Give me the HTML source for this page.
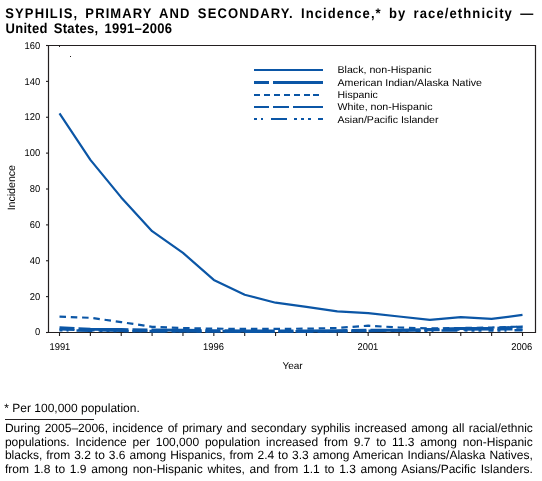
<!DOCTYPE html>
<html><head><meta charset="utf-8"><style>
html,body{margin:0;padding:0;background:#fff;width:542px;height:481px;overflow:hidden}
svg{display:block;will-change:transform}
text{font-family:"Liberation Sans",sans-serif;fill:#000;text-rendering:geometricPrecision}
.tk{font-size:9.9px}
.lab{font-size:10px}
.lg{font-size:10px}
.tt{font-size:14px;font-weight:bold}
.ft{font-size:12px}
</style></head><body>
<svg width="542" height="481" viewBox="0 0 542 481">
<path d="M48.5,45.5 H535.5 V332.5 H48.5 Z" fill="none" stroke="#231f20" stroke-width="1.2"/>
<line x1="46" y1="332.50" x2="48.5" y2="332.50" stroke="#231f20" stroke-width="1.1"/>
<text transform="translate(40.2,335.00) scale(0.95,1)" text-anchor="end" class="tk">0</text>
<line x1="46" y1="296.62" x2="48.5" y2="296.62" stroke="#231f20" stroke-width="1.1"/>
<text transform="translate(40.2,299.82) scale(0.95,1)" text-anchor="end" class="tk">20</text>
<line x1="46" y1="260.75" x2="48.5" y2="260.75" stroke="#231f20" stroke-width="1.1"/>
<text transform="translate(40.2,263.95) scale(0.95,1)" text-anchor="end" class="tk">40</text>
<line x1="46" y1="224.88" x2="48.5" y2="224.88" stroke="#231f20" stroke-width="1.1"/>
<text transform="translate(40.2,228.07) scale(0.95,1)" text-anchor="end" class="tk">60</text>
<line x1="46" y1="189.00" x2="48.5" y2="189.00" stroke="#231f20" stroke-width="1.1"/>
<text transform="translate(40.2,192.20) scale(0.95,1)" text-anchor="end" class="tk">80</text>
<line x1="46" y1="153.12" x2="48.5" y2="153.12" stroke="#231f20" stroke-width="1.1"/>
<text transform="translate(40.2,156.32) scale(0.95,1)" text-anchor="end" class="tk">100</text>
<line x1="46" y1="117.25" x2="48.5" y2="117.25" stroke="#231f20" stroke-width="1.1"/>
<text transform="translate(40.2,120.45) scale(0.95,1)" text-anchor="end" class="tk">120</text>
<line x1="46" y1="81.38" x2="48.5" y2="81.38" stroke="#231f20" stroke-width="1.1"/>
<text transform="translate(40.2,84.58) scale(0.95,1)" text-anchor="end" class="tk">140</text>
<line x1="46" y1="45.50" x2="48.5" y2="45.50" stroke="#231f20" stroke-width="1.1"/>
<text transform="translate(40.2,48.70) scale(0.95,1)" text-anchor="end" class="tk">160</text>
<line x1="59.50" y1="332.5" x2="59.50" y2="336" stroke="#231f20" stroke-width="1.1"/>
<line x1="90.37" y1="332.5" x2="90.37" y2="336" stroke="#231f20" stroke-width="1.1"/>
<line x1="121.23" y1="332.5" x2="121.23" y2="336" stroke="#231f20" stroke-width="1.1"/>
<line x1="152.10" y1="332.5" x2="152.10" y2="336" stroke="#231f20" stroke-width="1.1"/>
<line x1="182.97" y1="332.5" x2="182.97" y2="336" stroke="#231f20" stroke-width="1.1"/>
<line x1="213.83" y1="332.5" x2="213.83" y2="336" stroke="#231f20" stroke-width="1.1"/>
<line x1="244.70" y1="332.5" x2="244.70" y2="336" stroke="#231f20" stroke-width="1.1"/>
<line x1="275.57" y1="332.5" x2="275.57" y2="336" stroke="#231f20" stroke-width="1.1"/>
<line x1="306.43" y1="332.5" x2="306.43" y2="336" stroke="#231f20" stroke-width="1.1"/>
<line x1="337.30" y1="332.5" x2="337.30" y2="336" stroke="#231f20" stroke-width="1.1"/>
<line x1="368.17" y1="332.5" x2="368.17" y2="336" stroke="#231f20" stroke-width="1.1"/>
<line x1="399.03" y1="332.5" x2="399.03" y2="336" stroke="#231f20" stroke-width="1.1"/>
<line x1="429.90" y1="332.5" x2="429.90" y2="336" stroke="#231f20" stroke-width="1.1"/>
<line x1="460.77" y1="332.5" x2="460.77" y2="336" stroke="#231f20" stroke-width="1.1"/>
<line x1="491.63" y1="332.5" x2="491.63" y2="336" stroke="#231f20" stroke-width="1.1"/>
<line x1="522.50" y1="332.5" x2="522.50" y2="336" stroke="#231f20" stroke-width="1.1"/>
<text transform="translate(59.9,349.7) scale(0.95,1)" text-anchor="middle" class="tk">1991</text>
<text transform="translate(213.5,349.7) scale(0.95,1)" text-anchor="middle" class="tk">1996</text>
<text transform="translate(367.9,349.7) scale(0.95,1)" text-anchor="middle" class="tk">2001</text>
<text transform="translate(521.7,349.7) scale(0.95,1)" text-anchor="middle" class="tk">2006</text>
<line x1="59.5" y1="45" x2="59.5" y2="47" stroke="#231f20" stroke-width="1"/>
<rect x="70" y="56" width="1" height="1" fill="#231f20"/>
<text x="292.5" y="368.9" text-anchor="middle" class="lab">Year</text>
<text transform="translate(15,187.7) rotate(-90)" text-anchor="middle" class="lab" style="font-size:10.6px">Incidence</text>
<polyline points="59.5,330.2 90.4,330.7 121.2,330.9 152.1,331.1 183.0,331.1 213.8,331.2 244.7,331.4 275.6,331.4 306.4,331.4 337.3,331.2 368.2,330.9 399.0,330.7 429.9,330.7 460.8,330.3 491.6,330.5 522.5,330.2" fill="none" stroke="#0b56a6" stroke-width="2.6" stroke-dasharray="3,4,2,8,16,7,3,4,3,4,3,7,5,4"/>
<polyline points="59.5,327.8 90.4,329.3 121.2,329.6 152.1,330.0 183.0,330.3 213.8,330.7 244.7,330.9 275.6,330.9 306.4,330.9 337.3,330.7 368.2,330.3 399.0,330.2 429.9,329.5 460.8,328.6 491.6,328.4 522.5,327.1" fill="none" stroke="#0b56a6" stroke-width="3" stroke-dasharray="15,4,50,4"/>
<polyline points="59.5,329.6 90.4,330.3 121.2,331.1 152.1,331.4 183.0,331.6 213.8,331.8 244.7,332.0 275.6,331.8 306.4,331.8 337.3,331.6 368.2,331.1 399.0,330.7 429.9,330.3 460.8,329.8 491.6,329.6 522.5,329.5" fill="none" stroke="#0b56a6" stroke-width="2" stroke-dasharray="15,4,16,4,30,4"/>
<polyline points="59.5,316.7 90.4,317.8 121.2,322.1 152.1,326.8 183.0,328.0 213.8,328.7 244.7,328.9 275.6,328.9 306.4,328.7 337.3,328.0 368.2,325.7 399.0,327.5 429.9,328.4 460.8,328.0 491.6,327.5 522.5,326.6" fill="none" stroke="#0b56a6" stroke-width="2.2" stroke-dasharray="6.5,4.8"/>
<polyline points="59.5,113.3 90.4,159.9 121.2,197.4 152.1,231.2 183.0,252.9 213.8,279.9 244.7,294.8 275.6,302.7 306.4,306.8 337.3,311.3 368.2,313.1 399.0,316.5 429.9,319.8 460.8,317.1 491.6,318.9 522.5,314.9" fill="none" stroke="#0b56a6" stroke-width="2.2" stroke-linejoin="round"/>
<line x1="254" y1="69.9" x2="323" y2="69.9" stroke="#0b56a6" stroke-width="2"/>
<path d="M254,82.4H269M273,82.4H323" stroke="#0b56a6" stroke-width="3"/>
<path d="M254,95H260M264,95H270M274,95H280M284,95H290M294,95H300M304,95H310M313,95H319" stroke="#0b56a6" stroke-width="2"/>
<path d="M254,107H269M273,107H289M293,107H323" stroke="#0b56a6" stroke-width="2"/>
<path d="M254,119H257M261,119H263M271,119H287M294,119H297M301,119H304M308,119H311M318,119H323" stroke="#0b56a6" stroke-width="2"/>
<text x="337.5" y="72.8" class="lg" textLength="94" lengthAdjust="spacingAndGlyphs">Black, non-Hispanic</text>
<text x="337.5" y="85.5" class="lg" textLength="144.5" lengthAdjust="spacingAndGlyphs">American Indian/Alaska Native</text>
<text x="337.5" y="97.8" class="lg" textLength="40.3" lengthAdjust="spacingAndGlyphs">Hispanic</text>
<text x="337.5" y="110.2" class="lg" textLength="95" lengthAdjust="spacingAndGlyphs">White, non-Hispanic</text>
<text x="337.5" y="122.9" class="lg" textLength="101" lengthAdjust="spacingAndGlyphs">Asian/Pacific Islander</text>
<text transform="translate(5.3,17.6) scale(0.93,1)" class="tt" style="letter-spacing:1.1827956989247312px;word-spacing:2.6881720430107525px">SYPHILIS, PRIMARY AND SECONDARY. Incidence,* by race/ethnicity —</text>
<text transform="translate(5.5,32.8) scale(0.93,1)" class="tt" style="letter-spacing:0.3225806451612903px;word-spacing:2.150537634408602px">United States, 1991–2006</text>
<text x="4.3" y="412.3" class="ft">* Per 100,000 population.</text>
<line x1="5" y1="419.5" x2="94" y2="419.5" stroke="#231f20" stroke-width="1.1"/>
<text x="4.9" y="431.8" class="ft" style="word-spacing:1.116px">During 2005–2006, incidence of primary and secondary syphilis increased among all racial/ethnic</text>
<text x="4.9" y="445.5" class="ft" style="word-spacing:2.465px">populations. Incidence per 100,000 population increased from 9.7 to 11.3 among non-Hispanic</text>
<text x="4.9" y="459.2" class="ft" style="word-spacing:0.641px">blacks, from 3.2 to 3.6 among Hispanics, from 2.4 to 3.3 among American Indians/Alaska Natives,</text>
<text x="4.9" y="472.9" class="ft" style="word-spacing:1.402px">from 1.8 to 1.9 among non-Hispanic whites, and from 1.1 to 1.3 among Asians/Pacific Islanders.</text>
</svg>
</body></html>
